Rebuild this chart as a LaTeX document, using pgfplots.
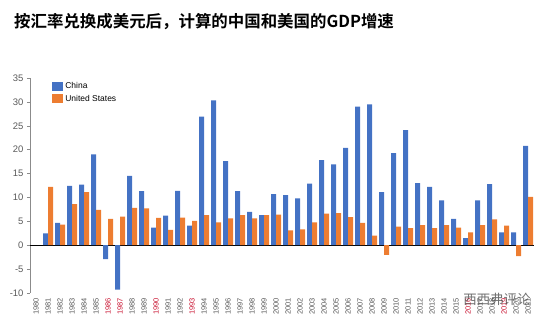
\documentclass[border=0pt]{standalone}
\usepackage{pgfplots}
\pgfplotsset{compat=1.18}
\usepackage{fontspec}
\setmainfont{Liberation Sans}
\newfontfamily\cjk{Noto Sans CJK SC}[BoldFont={Noto Sans CJK SC Bold}]
\definecolor{cnblue}{HTML}{4472C4}
\definecolor{usorange}{HTML}{ED7D31}
\definecolor{lblgray}{HTML}{595959}
\definecolor{hred}{HTML}{C8102E}
\pgfplotstableread{
x y
1 2.5
2 4.7
3 12.4
4 12.7
5 19.0
6 -2.9
7 -9.3
8 14.5
9 11.3
10 3.7
11 6.2
12 11.4
13 4.1
14 26.9
15 30.3
16 17.6
17 11.3
18 7.0
19 6.3
20 10.7
21 10.5
22 9.8
23 12.9
24 17.8
25 16.9
26 20.4
27 29.0
28 29.5
29 11.1
30 19.3
31 24.1
32 13.0
33 12.2
34 9.4
35 5.5
36 1.5
37 9.4
38 12.8
39 2.7
40 2.7
41 20.8
}\china
\pgfplotstableread{
x y
1 12.2
2 4.3
3 8.6
4 11.1
5 7.4
6 5.5
7 6.0
8 7.8
9 7.7
10 5.7
11 3.2
12 5.8
13 5.1
14 6.3
15 4.8
16 5.6
17 6.3
18 5.6
19 6.3
20 6.4
21 3.1
22 3.3
23 4.8
24 6.6
25 6.7
26 5.9
27 4.7
28 2.0
29 -2.0
30 3.9
31 3.6
32 4.2
33 3.6
34 4.2
35 3.7
36 2.7
37 4.2
38 5.4
39 4.1
40 -2.3
41 10.1
}\usdata
\begin{document}
\begin{tikzpicture}
\path[use as bounding box] (0,0) rectangle (546bp,321bp);
\node[anchor=west, inner sep=0pt] at (14bp,299bp) {\cjk\bfseries\fontsize{16.5}{18}\selectfont 按汇率兑换成美元后，计算的中国和美国的GDP增速};
\begin{axis}[
  scale only axis,
  width=504bp, height=215bp,
  at={(30bp,28bp)}, anchor=south west,
  xmin=-0.5, xmax=41.5, ymin=-10, ymax=35,
  ybar=0pt, bar width=5bp,
  axis x line*=bottom, axis y line*=left,
  x axis line style={draw=none},
  y axis line style={draw=lblgray!70, -},
  xtick={0,...,41},
  xticklabels={1980,1981,1982,1983,1984,1985,\textcolor{hred}{1986},\textcolor{hred}{1987},1988,1989,\textcolor{hred}{1990},1991,1992,\textcolor{hred}{1993},1994,1995,1996,1997,1998,1999,2000,2001,2002,2003,2004,2005,2006,2007,2008,2009,2010,2011,2012,2013,2014,2015,\textcolor{hred}{2016},2017,2018,\textcolor{hred}{2019},2020,2021},
  x tick style={draw=none},
  x tick label style={rotate=90, anchor=east, font=\fontsize{7.5}{8}\selectfont, text=lblgray, inner sep=2pt},
  ytick={-10,-5,...,35},
  y tick style={draw=lblgray!70, thin},
  tick align=outside, major tick length=3bp,
  y tick label style={font=\fontsize{9.5}{10}\selectfont, text=lblgray},
  /pgf/number format/assume math mode=true,
  extra y ticks={0}, extra y tick labels={},
  extra y tick style={grid=major, major grid style={black, line width=0.7pt}, y tick style={draw=none}},
  legend style={draw=none, fill=none, at={(0.044,0.99)}, anchor=north west, font=\fontsize{8.5}{9}\selectfont, row sep=1pt, inner sep=0pt},
  legend cell align=left,
  legend image code/.code={\fill[#1] (0bp,-4.5bp) rectangle (11bp,4.5bp);},
]
\addplot[fill=cnblue, draw=none] table[x=x,y=y] {\china};
\addplot[fill=usorange, draw=none] table[x=x,y=y] {\usdata};
\legend{China, United States}
\end{axis}
\node[opacity=0.75, text=black!75, inner sep=0pt] at (497bp,22bp) {\cjk\fontsize{13.5}{14}\selectfont 西西弗评论};
\end{tikzpicture}
\end{document}
